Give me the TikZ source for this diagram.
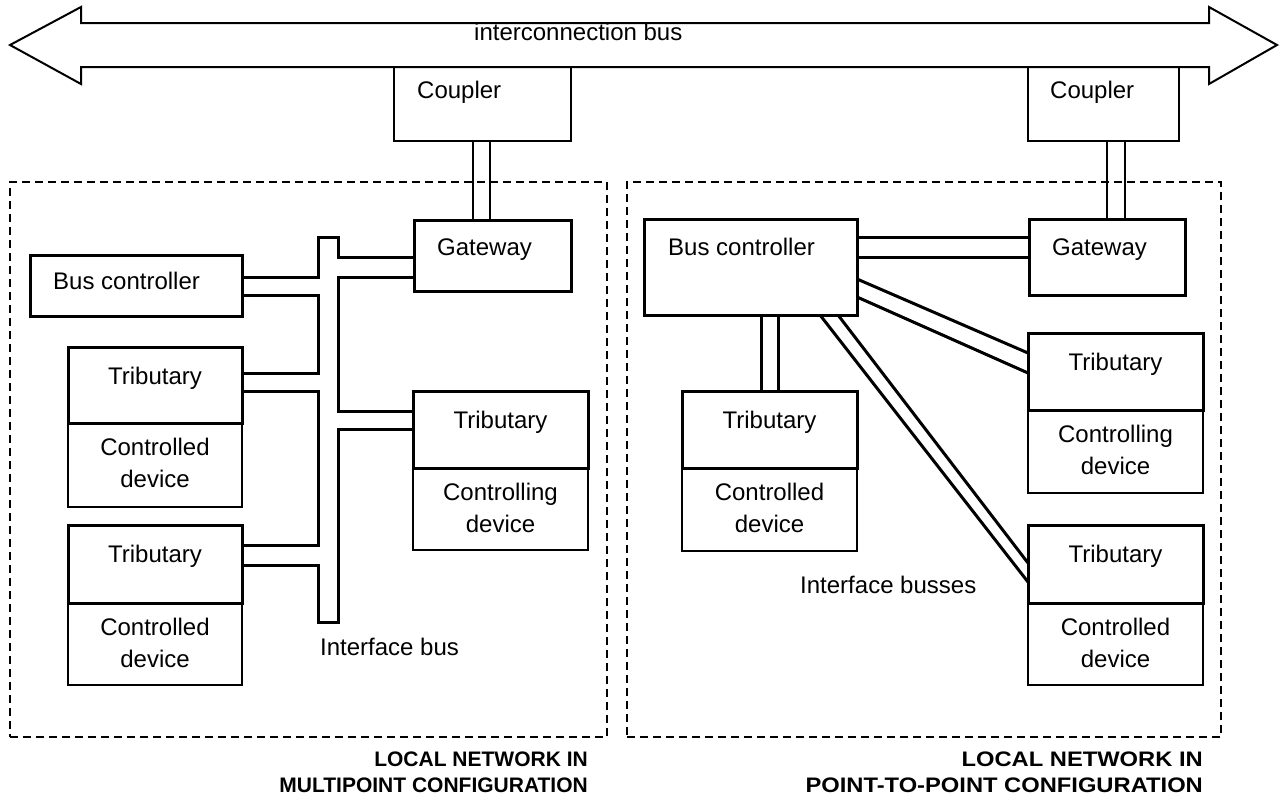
\documentclass[tikz,border=0pt]{standalone}
\usepackage{fontspec}
\setmainfont{Liberation Sans}
\usetikzlibrary{calc}
\tikzset{
  thickbox/.style={draw, line width=3pt, anchor=north west, inner sep=0pt, outer sep=0pt},
  thinbox/.style={draw, line width=1.7pt, anchor=north west, inner sep=0pt, outer sep=0pt},
  netbox/.style={draw, line width=1.8pt, dash pattern=on 8pt off 5pt, anchor=north west, inner sep=0pt, outer sep=0pt},
  txt/.style={inner sep=0pt, font=\fontsize{24}{29}\selectfont},
  lbl/.style={inner sep=0pt, font=\fontsize{21}{26}\selectfont\bfseries},
  busline/.style={line width=3pt, line join=miter},
  thinpair/.style={line width=1.7pt},
  arrowline/.style={line width=2pt, line join=miter}
}
\newcommand{\tribunit}[8]{%
  \node[thinbox, minimum width=#6, minimum height=#5-#4] (#1d) at (#2,#4) {};
  \node[thickbox, minimum width=#6, minimum height=#4-#3] (#1) at (#2,#3) {};
  \node[txt, anchor=base] (#1t) at ($(#1.north)+(0,37)$) {Tributary};
  \node[txt, anchor=base] (#1a) at ($(#1d.north)+(0,32)$) {#7};
  \node[txt, anchor=base] (#1b) at ($(#1d.north)+(0,64)$) {#8};
}
\begin{document}
\begin{tikzpicture}[x=1pt,y=-1pt]
\useasboundingbox (0,0) rectangle (1281,798);

% interconnection bus (double arrow)
\draw[arrowline] (10,45) -- (81,7) -- (81,23) -- (1209,23) -- (1209,7) -- (1277,45)
  -- (1209,84) -- (1209,67) -- (81,67) -- (81,84) -- cycle;
\node[txt, anchor=base west] (bustxt) at (474,40) {interconnection bus};

% couplers
\node[thinbox, minimum width=177, minimum height=74] (coupL) at (394,67) {};
\node[txt, anchor=base west] (coupLt) at ($(coupL.north west)+(23,31)$) {Coupler};
\node[thinbox, minimum width=151, minimum height=74] (coupR) at (1028,67) {};
\node[txt, anchor=base west] (coupRt) at ($(coupR.north west)+(22,31)$) {Coupler};

% local network frames
\node[netbox, minimum width=597, minimum height=555] (netL) at (10,182) {};
\node[netbox, minimum width=594, minimum height=555] (netR) at (627,182) {};

% gateways
\node[thickbox, minimum width=157, minimum height=71] (gwL) at (414,220) {};
\node[txt, anchor=base west] (gwLt) at ($(gwL.north west)+(23,35)$) {Gateway};
\node[thickbox, minimum width=156, minimum height=76] (gwR) at (1029,219) {};
\node[txt, anchor=base west] (gwRt) at ($(gwR.north west)+(23,36)$) {Gateway};

% bus controllers
\node[thickbox, minimum width=212, minimum height=61] (bcL) at (30,255) {};
\node[txt, anchor=base west] (bcLt) at ($(bcL.north west)+(23,34)$) {Bus controller};
\node[thickbox, minimum width=213, minimum height=96] (bcR) at (644,219) {};
\node[txt, anchor=base west] (bcRt) at ($(bcR.north west)+(24,36)$) {Bus controller};

% tributary units
\tribunit{tA}{68}{347}{423}{507}{174}{Controlled}{device}
\tribunit{tB}{68}{525}{603}{685}{174}{Controlled}{device}
\tribunit{tC}{413}{391}{468}{550}{175}{Controlling}{device}
\tribunit{tD}{682}{391}{468}{551}{175}{Controlled}{device}
\tribunit{tE}{1028}{333}{410}{493}{175}{Controlling}{device}
\tribunit{tF}{1028}{525}{603}{685}{175}{Controlled}{device}

% coupler links
\draw[thinpair] (coupL.south -| 473,0) -- (gwL.north -| 473,0);
\draw[thinpair] (coupL.south -| 490,0) -- (gwL.north -| 490,0);
\draw[thinpair] (coupR.south -| 1107,0) -- (gwR.north -| 1107,0);
\draw[thinpair] (coupR.south -| 1125,0) -- (gwR.north -| 1125,0);

% multipoint interface bus
\draw[busline] (bcL.east |- 0,277) -- (318,277) -- (318,237) -- (338,237) -- (338,257) -- (gwL.west |- 0,257);
\draw[busline] (gwL.west |- 0,277) -- (338,277) -- (338,411) -- (tC.west |- 0,411);
\draw[busline] (tC.west |- 0,429) -- (338,429) -- (338,622) -- (318,622) -- (318,565) -- (tB.east |- 0,565);
\draw[busline] (tB.east |- 0,545) -- (318,545) -- (318,391) -- (tA.east |- 0,391);
\draw[busline] (tA.east |- 0,373) -- (318,373) -- (318,295) -- (bcL.east |- 0,295);

% point-to-point interface busses
\draw[busline] (bcR.east |- 0,237) -- (gwR.west |- 0,237);
\draw[busline] (bcR.east |- 0,257) -- (gwR.west |- 0,257);
\draw[busline] (bcR.south -| 761,0) -- (tD.north -| 761,0);
\draw[busline] (bcR.south -| 778,0) -- (tD.north -| 778,0);
\draw[busline] (bcR.east |- 0,279) -- (tE.west |- 0,353);
\draw[busline] (bcR.east |- 0,297) -- (tE.west |- 0,373);
\draw[busline] (bcR.south -| 820,0) -- (tF.west |- 0,582);
\draw[busline] (bcR.south -| 838,0) -- (tF.west |- 0,563);

% texts
\node[txt, anchor=base west] (ifb) at (320,655) {Interface bus};
\node[txt, anchor=base west] (ifbs) at (800,593) {Interface busses};
\node[lbl, anchor=base east] (lblL1) at (588,766) {LOCAL NETWORK IN};
\node[lbl, anchor=base east] (lblL2) at (588,792) {MULTIPOINT CONFIGURATION};
\node[lbl, anchor=base east] (lblR1) at (1203,766) {\scalebox{1.13}[1]{LOCAL NETWORK IN}};
\node[lbl, anchor=base east] (lblR2) at (1203,792) {\scalebox{1.13}[1]{POINT-TO-POINT CONFIGURATION}};
\end{tikzpicture}
\end{document}
